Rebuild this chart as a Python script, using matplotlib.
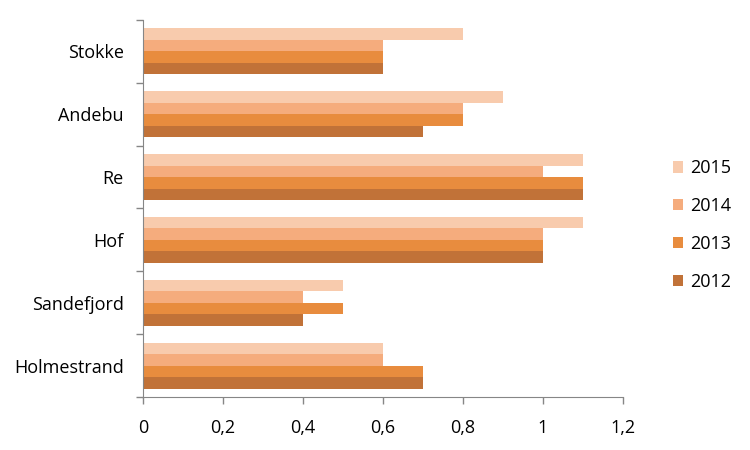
import matplotlib
matplotlib.use("Agg")
import matplotlib.pyplot as plt
import numpy as np

categories = ["Holmestrand", "Sandefjord", "Hof", "Re", "Andebu", "Stokke"]
years = ["2012", "2013", "2014", "2015"]
v2012 = [0.7, 0.4, 1.0, 1.1, 0.7, 0.6]
v2013 = [0.7, 0.5, 1.0, 1.1, 0.8, 0.6]
v2014 = [0.6, 0.4, 1.0, 1.0, 0.8, 0.6]
v2015 = [0.6, 0.5, 1.1, 1.1, 0.9, 0.8]
xticks = [0, 0.2, 0.4, 0.6, 0.8, 1.0, 1.2]
xticklabels = ["0", "0,2", "0,4", "0,6", "0,8", "1", "1,2"]

colors = ["#C17238", "#E88C3E", "#F5AC7D", "#F8CBAD"]
series = [v2012, v2013, v2014, v2015]

plt.rcParams['font.family'] = ['Open Sans', 'DejaVu Sans']
fig = plt.figure(figsize=(7.5, 4.5), dpi=100)
ax = fig.add_axes([0.1907, 0.1178, 0.64, 0.8378])

n = len(series)
group_h = 0.73
bh = group_h / n
y = np.arange(len(categories))
handles = []
for i, (vals, c, yr) in enumerate(zip(series, colors, years)):
    offs = -group_h / 2 + bh * (i + 0.5)
    h = ax.barh(y + offs, vals, height=bh, color=c, label=yr, linewidth=0)
    handles.append(h)

ax.set_xlim(0, 1.2)
ax.set_ylim(-0.5, len(categories) - 0.5)
ax.set_xticks(xticks)
ax.set_xticklabels(xticklabels, fontsize=13)
ax.set_yticks(y)
ax.set_yticklabels(categories, fontsize=13)
ax.set_yticks(np.arange(len(categories) + 1) - 0.5, minor=True)
ax.tick_params(axis='y', which='major', length=0, pad=14)
ax.tick_params(axis='y', which='minor', length=5, color='#868686', width=1)
ax.tick_params(axis='x', length=5, color='#868686', width=1, pad=11)
for s in ['top', 'right']:
    ax.spines[s].set_visible(False)
for s in ['left', 'bottom']:
    ax.spines[s].set_color('#868686')

leg = fig.legend(handles[::-1], years[::-1], loc='center left',
                 bbox_to_anchor=(0.875, 0.5), frameon=False, fontsize=13,
                 handlelength=0.6, handleheight=0.6, labelspacing=1.1,
                 handletextpad=0.4)

fig.savefig("out.png", dpi=100)
